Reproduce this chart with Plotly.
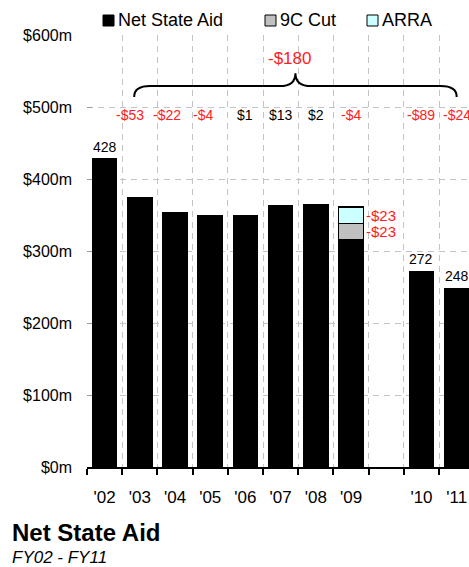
import plotly.graph_objects as go

# ---- data ----
categories = ["'02", "'03", "'04", "'05", "'06", "'07", "'08", "'09", "", "'10", "'11"]
net_state_aid = [428, 375, 353, 349, 350, 363, 365, 315, None, 272, 248]
cut_9c = [None, None, None, None, None, None, None, 23, None, None, None]
arra = [None, None, None, None, None, None, None, 23, None, None, None]
year_change = [None, -53, -22, -4, 1, 13, 2, -4, None, -89, -24]
top_labels = [428, None, None, None, None, None, None, None, None, 272, 248]
total_change = -180
y_ticks = [0, 100, 200, 300, 400, 500, 600]
series_names = ["Net State Aid", "9C Cut", "ARRA"]
series_colors = ["black", "#c0c0c0", "#ccffff"]

FONT = "Liberation Sans, Arial, sans-serif"
RED = "#ff2020"
x = list(range(len(categories)))
BW = 0.7

# plot area geometry in pixels (for paper-coordinate conversions)
L, R, T, B, H = 87, 469, 35, 467, 567
def px_x(p):
    return (p - L) / (R - L)
def px_y(p):
    return (B - p) / (B - T)

fig = go.Figure()
for name, vals, col, lw in zip(series_names, [net_state_aid, cut_9c, arra], series_colors, [1, 1.5, 1.5]):
    fig.add_trace(go.Bar(x=x, y=vals, name=name, width=BW, showlegend=False,
                         marker=dict(color=col, line=dict(color="black", width=lw))))

ann = []
shapes = []
# yearly change labels
for i, v in enumerate(year_change):
    if v is None:
        continue
    txt = ("-$%d" % -v) if v < 0 else ("$%d" % v)
    shift = {1: -10, 2: -8, 3: -7}.get(i, 0)
    ann.append(dict(x=i, y=489, text=txt, showarrow=False, xshift=shift,
                    font=dict(family=FONT, size=14, color=RED if v < 0 else "black")))
# labels on top of bars
for i, v in enumerate(top_labels):
    if v is None:
        continue
    ann.append(dict(x=i, y=v, text=str(v), showarrow=False, yanchor="bottom", yshift=2,
                    font=dict(family=FONT, size=14, color="black")))
# 9C cut / ARRA labels on '09
i09 = 7
base = net_state_aid[i09]
for seg in (cut_9c[i09], arra[i09]):
    ann.append(dict(x=i09 + BW / 2, y=base + seg / 2, text="-$%d" % seg, showarrow=False,
                    xanchor="left", xshift=1,
                    font=dict(family=FONT, size=15, color=RED)))
    base += seg

# brace over the whole period
bx0, bx1 = 0.84, 10.0
bm = (bx0 + bx1) / 2
yb, yl, yt = 514, 529, 547
dx = 0.45
path = (f"M {bx0},{yb} Q {bx0},{yl} {bx0+dx},{yl} L {bm-dx},{yl} Q {bm},{yl} {bm},{yt} "
        f"Q {bm},{yl} {bm+dx},{yl} L {bx1-dx},{yl} Q {bx1},{yl} {bx1},{yb}")
shapes.append(dict(type="path", path=path, xref="x", yref="y", line=dict(color="black", width=2)))
ann.append(dict(x=bm, y=568, text="-$%d" % -total_change, showarrow=False, xshift=-6,
                font=dict(family=FONT, size=17, color=RED)))

# custom legend
leg_sq = [(103, 114), (265, 276), (367, 378)]
for (x0, x1), name, col in zip(leg_sq, series_names, series_colors):
    shapes.append(dict(type="rect", xref="paper", yref="paper",
                       x0=px_x(x0), x1=px_x(x1), y0=px_y(26), y1=px_y(15),
                       fillcolor=col, line=dict(color="black", width=1)))
    ann.append(dict(xref="paper", yref="paper", x=px_x(x1 + 2), y=px_y(20), xanchor="left",
                    yanchor="middle", text=name, showarrow=False,
                    font=dict(family=FONT, size=18, color="black")))

# titles
ann.append(dict(xref="paper", yref="paper", x=px_x(10), y=px_y(532), xanchor="left",
                yanchor="middle", text="<b>Net State Aid</b>", showarrow=False,
                font=dict(family=FONT, size=24, color="black")))
ann.append(dict(xref="paper", yref="paper", x=px_x(10), y=px_y(557), xanchor="left",
                yanchor="middle", text="<i>FY02 - FY11</i>", showarrow=False,
                font=dict(family=FONT, size=17, color="black")))

fig.update_layout(
    width=469, height=567,
    margin=dict(l=L, r=0, t=T, b=H - B),
    barmode="stack",
    showlegend=False,
    plot_bgcolor="white", paper_bgcolor="white",
    font=dict(family=FONT, color="black"),
    annotations=ann,
    shapes=shapes,
    xaxis=dict(range=[-0.5, 10.35], tickmode="array", tickvals=x, ticktext=categories,
               showgrid=False, ticks="", showline=True, linecolor="black", linewidth=2,
               tickfont=dict(family=FONT, size=17), ticklabelstandoff=14,
               minor=dict(tick0=-0.5, dtick=1, showgrid=True, gridcolor="#c4c4c4",
                          griddash="6px,5px", gridwidth=1, ticks="outside", ticklen=6,
                          tickcolor="black", tickwidth=1.5),
               zeroline=False),
    yaxis=dict(range=[0, 600], tickmode="array", tickvals=y_ticks,
               ticktext=["$%dm" % v for v in y_ticks], showgrid=True, gridcolor="#c4c4c4",
               griddash="6px,5px", gridwidth=1, ticks="inside", ticklen=5, tickcolor="#999",
               tickfont=dict(family=FONT, size=16), ticklabelstandoff=14,
               zeroline=False, showline=False),
)

fig.write_html("out.html")
